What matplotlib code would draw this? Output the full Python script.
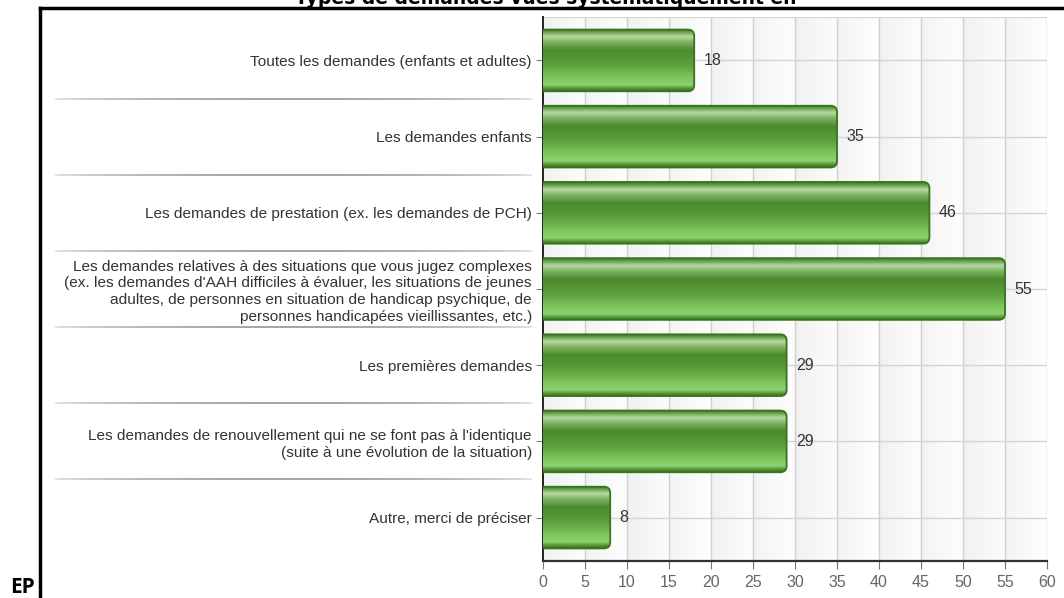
import numpy as np
import matplotlib
matplotlib.use('Agg')
import matplotlib.pyplot as plt
from matplotlib.colors import LinearSegmentedColormap
from matplotlib.patches import FancyBboxPatch
from matplotlib.collections import LineCollection
from matplotlib.lines import Line2D

categories = [
    "Toutes les demandes (enfants et adultes)",
    "Les demandes enfants",
    "Les demandes de prestation (ex. les demandes de PCH)",
    "Les demandes relatives à des situations que vous jugez complexes\n"
    "(ex. les demandes d'AAH difficiles à évaluer, les situations de jeunes\n"
    "adultes, de personnes en situation de handicap psychique, de\n"
    "personnes handicapées vieillissantes, etc.)",
    "Les premières demandes",
    "Les demandes de renouvellement qui ne se font pas à l'identique\n"
    "(suite à une évolution de la situation)",
    "Autre, merci de préciser",
]
values = [18, 35, 46, 55, 29, 29, 8]
x_ticks = list(range(0, 61, 5))

W, H = 1064, 598
fig = plt.figure(figsize=(W / 100, H / 100), dpi=100)
ax = fig.add_axes([543 / W, 1 - 561 / H, 504 / W, 544 / H])

n = len(categories)
y_lo, y_hi = n - 1 + 0.57, -0.57
ax.set_xlim(0, 60)
ax.set_ylim(y_lo, y_hi)

# striped background, one soft band per 5 units
xs = np.linspace(0, 60, 1200)
frac = (xs % 5) / 5
band = (xs // 5) % 2
shade = 0.945 + 0.045 * frac + 0.008 * band
bg = np.dstack([shade, shade, shade]).repeat(2, axis=0)
ax.imshow(bg, extent=(0, 60, y_lo, y_hi), aspect='auto', zorder=0,
          interpolation='bilinear')

for xv in x_ticks[1:]:
    ax.axvline(xv, color='#d0d0d0', lw=1.0, zorder=1)
for i in range(n):
    ax.axhline(i, color='#d4d4d4', lw=1.0, zorder=1)

bar_cmap = LinearSegmentedColormap.from_list('bar', [
    (0.00, '#3b7620'), (0.04, '#5d9a42'), (0.12, '#b8d9a6'),
    (0.21, '#7db360'), (0.34, '#4c8a2f'), (0.56, '#5a9d39'),
    (0.80, '#82c862'), (0.90, '#8bd46d'), (0.97, '#4c8a2e'),
    (1.00, '#3b7620'),
])
grad = np.linspace(0, 1, 256)[:, np.newaxis]

bar_h = 0.81
aspect = (504 / 60) / (544 / (y_lo - y_hi))
for i, v in enumerate(values):
    y0 = i - bar_h / 2
    patch = FancyBboxPatch((-1.5, y0), v + 1.5, bar_h,
                           boxstyle='round,pad=0,rounding_size=0.75',
                           mutation_aspect=aspect,
                           facecolor='none', edgecolor='#3a731f',
                           lw=1.3, zorder=4)
    ax.add_patch(patch)
    im = ax.imshow(grad, cmap=bar_cmap, extent=(0, v, y0 + bar_h, y0),
                   aspect='auto', zorder=3, interpolation='bilinear')
    im.set_clip_path(patch)
    ax.text(v + 1.1, i, str(v), va='center', ha='left', fontsize=11.5,
            color='#333333', family='Liberation Sans', zorder=5)

ax.set_xticks(x_ticks)
ax.set_xticklabels([str(t) for t in x_ticks], fontsize=11.5,
                   color='#666666', family='Liberation Sans')
ax.set_yticks(range(n))
ax.set_yticklabels(categories, fontsize=11.1, color='#333333',
                   family='Liberation Sans', linespacing=1.27)
ax.tick_params(axis='x', length=6, color='#777777', pad=4)
ax.tick_params(axis='y', length=5, color='#777777', pad=3)

for side in ('top', 'right'):
    ax.spines[side].set_visible(False)
ax.spines['left'].set_color('#222222')
ax.spines['left'].set_linewidth(1.4)
ax.spines['bottom'].set_color('#333333')
ax.spines['bottom'].set_linewidth(1.6)
ax.axhline(y_hi, color='#d8d8d8', lw=1.0, zorder=2)

# faded separators between the category labels
tr = ax.get_yaxis_transform()
x_left, x_right = (55 - 543) / 504, (532 - 543) / 504
pts = np.linspace(x_left, x_right, 80)
fade = np.sin(np.linspace(0, np.pi, 79)) ** 0.6
for k in range(1, n):
    yb = k - 0.5
    segs = [[(pts[j], yb), (pts[j + 1], yb)] for j in range(79)]
    cols = [(0.55, 0.55, 0.55, 0.25 + 0.6 * f) for f in fade]
    lc = LineCollection(segs, colors=cols, linewidths=1.3,
                        transform=tr, clip_on=False)
    ax.add_collection(lc)

# frame lines around the panel
fig.add_artist(Line2D([40 / W, 1], [1 - 8 / H] * 2, color='black', lw=2.5))
fig.add_artist(Line2D([40 / W] * 2, [0, 1 - 8 / H], color='black', lw=2.5))

fig.text(546 / W, 1 - 4 / H, "Types de demandes vues systématiquement en",
         ha='center', va='baseline', fontsize=13.5, fontweight='bold',
         family='DejaVu Sans')
fig.text(10 / W, 1 - 593 / H, "EP", ha='left', va='baseline',
         fontsize=15, fontweight='bold', family='Open Sans')

fig.savefig('out.png', dpi=100)
